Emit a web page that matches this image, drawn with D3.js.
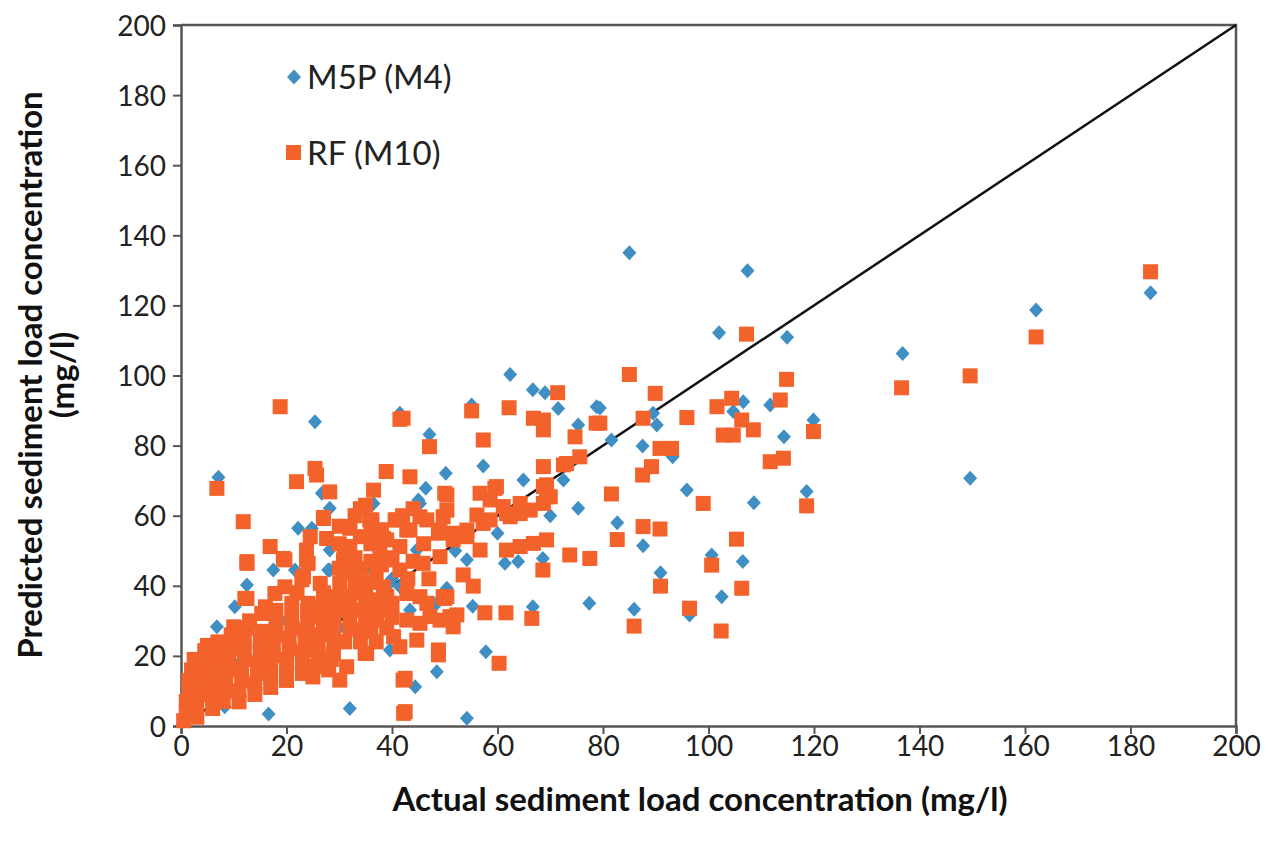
<!DOCTYPE html>
<html>
<head>
<meta charset="utf-8">
<script src="https://cdn.jsdelivr.net/npm/d3@7"></script>
<style>
  body { margin: 0; background: #fff; }
  .tick text { font-family: Lato, "Open Sans", sans-serif; font-size: 28px; fill: #222; }
  .titles { font-family: Lato, "Open Sans", sans-serif; font-size: 33px; font-weight: bold; fill: #111; }
  .legend { font-family: Lato, "Open Sans", sans-serif; font-size: 33px; fill: #222; }
</style>
</head>
<body>
<svg id="chart"></svg>
<script>

// axis ticks
var xTicks = [0, 20, 40, 60, 80, 100, 120, 140, 160, 180, 200];
var yTicks = [0, 20, 40, 60, 80, 100, 120, 140, 160, 180, 200];

var seriesNames = ["M5P (M4)", "RF (M10)"];

// M5P (M4) points [actual, predicted]
var m5pPoints = [
  [85,135],[107.4,129.9],[102,112.2],[114.9,110.9],[136.8,106.3],[149.6,70.7],[162.1,118.7],[183.8,123.6],
  [79.4,90.7],[89.5,89.2],[90.2,85.9],[81.6,81.6],[87.5,79.9],[93.2,76.8],[95.9,67.3],[82.7,58],
  [87.6,51.4],[90.9,43.7],[85.9,33.3],[96.4,31.7],[100.6,48.8],[102.5,36.9],[106.5,46.9],[108.6,63.7],
  [118.6,66.9],[119.9,87.3],[114.3,82.5],[106.6,92.5],[104.7,89.7],[111.7,91.6],
  [62.4,100.3],[66.7,95.9],[69,95.1],[71.5,90.6],[55.1,91.6],[78.8,91.1],[75.3,85.9],[47.1,83.2],
  [57.3,74.2],[50.2,72.1],[64.9,70.2],[72.5,70.2],[46.4,67.8],[45.3,63.5],[75.3,62.1],[61.4,46.4],
  [63.9,46.9],[68.6,47.8],[50.4,39.3],[48.5,35],[55.3,34.2],[66.7,34],[77.4,35],[57.8,21.2],
  [48.5,15.5],[44.4,11.2],[54.2,2.2],[54.2,47.4],[45,64.5],[28.2,50.2],[44.7,50.2],[36.2,45],
  [39.6,40.7],[41.5,39.7],[43.4,33.1],[47.8,35],[30.1,35],[39.6,32.1],[39.6,21.7],[24.8,56.4],
  [7.1,71],[25.4,86.8],[41.5,89.2],[26.7,66.4],[36.5,63.5],[28.2,62.1],[22.2,56.4],[17.5,44.5],
  [28.2,44.5],[35.8,45],[30.1,34.8],[32,5],[16.6,3.4],[12.5,40.2],[10.2,34],[6.8,28.3],
  [8.3,5.5],[21.6,44.5],[24.1,33.1],[27.9,44.5],[3,5],[5,12],[10,18],[15,25],[20,30],[25,22],
  [30,28],[35,38],[40,42],[60,55],[52,50],[70,60]
];

// RF (M10) points [actual, predicted]
var rfPoints = [
  // low-end cluster
  [0.5,1.5],[1,4],[1,7],[1.5,10],[1.5,13],[2,16],[2.5,19],[3,2.5],[3,6],[3.5,9],[3.5,12],[4,15],
  [4.5,18],[4.5,21.5],[5,23],[6,5],[6,8],[6,11],[6.5,14],[6.5,17],[7,20],[7,24],[8,7],[8.5,10],
  [8.5,13],[9,16],[9,19],[9.5,22],[9.5,26],[10,28.3],[11,6.9],[11,10],[11.5,13],[11.5,16],[12,19],
  [12,22],[12,25],[12.5,28],[12.1,36.4],[12.5,46.4],[13,30],[14,9],[14,12],[14.5,15],[14.5,18],
  [15,21],[15,24],[15.3,27],[15.3,32.1],[16,34],[17,11],[17,14],[17,17],[17.5,20],[17.5,23],[18,26],
  [18,29],[17.8,37.8],[18,33],[19.7,39.7],[19.7,47.4],[20,13],[20,16],[20,19],[20.5,22],[20.5,25],
  [21,28],[21,31],[21,35],[22.9,41.7],[22,38],[23,15],[23,18],[23,21],[23.5,24],[23.5,27.4],[24,30],
  [24,33],[24.1,35],[24.1,46.4],[23.2,42.6],[25,14],[25.5,17],[26,20],[26.4,17.9],[26,23],[26.5,26],
  [26.4,31.2],[27,29],[27,34],[26.4,40.7],[27,38],[28,16],[28.5,19],[28.9,20.7],[29,24],[28.9,27.4],
  [29,30],[28.9,36.9],[29.5,33],[30.1,40.7],[30.1,13.1],[31.4,16.9],
  // 20-50 band
  [27,59.2],[36.2,58.8],[40.6,58.8],[46.6,58.8],[49.7,59.7],[32,56.4],[38.4,53.5],[42.8,55.9],
  [48.8,55],[32,51.2],[37.7,50.2],[41.5,51.2],[23.8,50.2],[45.9,46.4],[49.1,48.3],[23.8,47.4],
  [30.8,47.4],[32.7,44.5],[39,47.4],[41.5,44.5],[23.2,42.6],[33.9,40.7],[38.4,39.7],[42.8,37.8],
  [45.3,36.9],[46.6,35],[49.7,36.9],[32,35],[35.2,34],[24.5,34],[32,31.2],[37.1,30.2],[42.8,30.2],
  [45.3,29.3],[49.1,30.2],[51,31.2],[23.8,27.4],[33.9,27.4],[40.3,25.5],[41.5,22.6],[44.7,24.5],
  [35.2,20.7],[24.5,21.7],[31,24],[34,24],[36,27],[38,33],[35,37],[37,43],[33,48],[36,52],[34,54],
  [30,52],[30,57],[33,60],[34,62],[31,50],[37,36],[40,35],[43,42],[44,47],[47,42],[46,52],[40,48],
  [38,56],[42,60],[44,62],[35,63],[31,44],[33,42],[35,30],[36,41],[38,46],[39,28],[37,24],[34,33],
  [36,56],[31,37],[33,38],[30,45],[32,28],[34,45],[39,37],[40,31],[36,47],
  // upper left scatter
  [18.8,91.1],[41.5,87.5],[6.8,67.8],[21.9,69.7],[25.4,73.5],[25.7,71.6],[28.2,66.8],[38.9,72.6],
  [36.5,67.3],[11.8,58.3],[27,59.5],[24.5,54],[27.6,53.5],[32,56.9],[35.8,58.8],[39,53.1],[40.9,58.8],
  [16.9,51.2],[19.4,47.8],[12.5,46.9],[12.5,36.4],[34.9,20.7],[42.1,13.1],[42.2,3.6],
  // middle
  [71.4,95.1],[55.1,89.9],[62.2,90.8],[78.7,86.4],[42.1,87.8],[66.8,87.8],[68.7,87.3],[68.7,84.5],
  [74.7,82.5],[47.1,79.7],[57.3,81.6],[68.7,74],[73.1,74.9],[75.6,76.8],[72.5,74.5],[43.4,71.1],
  [68.7,68.3],[70,65.4],[50,66.4],[56.7,66.4],[59.8,68.3],[58.6,64.5],[61.1,62.6],[64.3,63.5],
  [66.2,61.6],[68.7,63.5],[69.3,68.8],[69.3,65.4],[50.4,65.9],[59.5,67.8],[56.1,60.2],[58.6,58.8],
  [62.4,59.7],[57.3,57.8],[54.2,55.9],[49.1,55.9],[51.6,53.1],[45.3,59.7],[43.4,55.9],[61.7,60.6],
  [64.3,60.6],[50.4,61.6],[51.6,55],[54.2,54],[56.7,50.2],[61.7,50.2],[64.3,51.2],[66.8,52.1],
  [69.3,53.1],[68.6,44.5],[73.7,48.8],[77.5,47.8],[53.5,43.1],[55.4,39.9],[50.4,36.9],[47.2,31.2],
  [57.6,32.3],[61.6,32.3],[66.5,30.7],[60.3,17.9],[48.8,20.3],[48.8,21.7],[42.5,13.6],[42.5,4.1],
  [50,36.4],[52.3,31.7],[51.6,28.3],
  // right side
  [85,100.3],[89.9,94.9],[79.4,86.4],[87.6,87.8],[95.9,88],[101.6,91.1],[104.4,93.5],[114.8,98.9],
  [113.6,93],[106.3,87.3],[108.5,84.5],[102.8,83],[104.7,83],[119.9,84],[111.7,75.4],[114.2,76.4],
  [90.8,79.2],[93,79.2],[89.2,74],[87.5,71.6],[81.6,66.2],[99,63.5],[118.6,62.8],[87.6,56.9],
  [90.8,56.2],[82.7,53.2],[105.3,53.3],[100.6,45.9],[90.9,39.9],[106.3,39.3],[85.9,28.5],[96.4,33.6],
  [102.4,27.1],[107.2,111.8],[136.6,96.5],[149.6,99.9],[162.1,111],[183.8,129.6]
];

var margin = {top: 25, right: 39, bottom: 122, left: 181};
var width = 1275 - margin.left - margin.right;
var height = 848 - margin.top - margin.bottom;

var blue = "#3f8fc4";
var orange = "#f4622c";

var svg = d3.select("#chart")
    .attr("width", 1275)
    .attr("height", 848)
  .append("g")
    .attr("transform", "translate(" + margin.left + "," + margin.top + ")");

var x = d3.scaleLinear().domain([0, 200]).range([0, width]);
var y = d3.scaleLinear().domain([0, 200]).range([height, 0]);

// axes
var xAxis = svg.append("g")
    .attr("transform", "translate(0," + height + ")")
    .call(d3.axisBottom(x).tickValues(xTicks).tickSize(8).tickPadding(2));
var yAxis = svg.append("g")
    .call(d3.axisLeft(y).tickValues(yTicks).tickSize(8).tickPadding(7));

[xAxis, yAxis].forEach(function(a) {
  a.select(".domain").attr("stroke", "#555").attr("stroke-width", 2.5);
  a.selectAll(".tick line").attr("stroke", "#555").attr("stroke-width", 2);
});
yAxis.selectAll(".tick text").attr("dy", "0.36em");

// plot border (top + right)
svg.append("path")
    .attr("d", "M0," + y(200) + "H" + x(200) + "V" + y(0))
    .attr("fill", "none")
    .attr("stroke", "#555")
    .attr("stroke-width", 2.5);

// 1:1 line
svg.append("line")
    .attr("x1", x(0)).attr("y1", y(0))
    .attr("x2", x(200)).attr("y2", y(200))
    .attr("stroke", "#111")
    .attr("stroke-width", 2.5);

var diamond = "M0,-7.5L7,0L0,7.5L-7,0Z";

svg.append("g").selectAll("path")
    .data(m5pPoints)
  .enter().append("path")
    .attr("d", diamond)
    .attr("transform", function(d) { return "translate(" + x(d[0]) + "," + y(d[1]) + ")"; })
    .attr("fill", blue);

svg.append("g").selectAll("rect")
    .data(rfPoints)
  .enter().append("rect")
    .attr("x", function(d) { return x(d[0]) - 7.5; })
    .attr("y", function(d) { return y(d[1]) - 7.5; })
    .attr("width", 15)
    .attr("height", 15)
    .attr("fill", orange);

// legend
var legend = svg.append("g").attr("transform", "translate(113,52)");
legend.append("path").attr("d", diamond).attr("fill", blue);
legend.append("text").attr("class", "legend").attr("x", 13).attr("y", 12).text(seriesNames[0]);
legend.append("rect").attr("x", -8).attr("y", 68).attr("width", 15).attr("height", 15).attr("fill", orange);
legend.append("text").attr("class", "legend").attr("x", 13).attr("y", 88).text(seriesNames[1]);

// axis titles
svg.append("text")
    .attr("class", "titles")
    .attr("text-anchor", "middle")
    .attr("x", 519)
    .attr("y", height + 85)
    .text("Actual sediment load concentration (mg/l)");

svg.append("text")
    .attr("class", "titles")
    .attr("text-anchor", "middle")
    .attr("transform", "translate(" + (-139) + "," + 350 + ")rotate(-90)")
    .text("Predicted sediment load concentration");

svg.append("text")
    .attr("class", "titles")
    .attr("text-anchor", "middle")
    .attr("transform", "translate(" + (-107) + "," + 350 + ")rotate(-90)")
    .text("(mg/l)");

</script>
</body>
</html>
